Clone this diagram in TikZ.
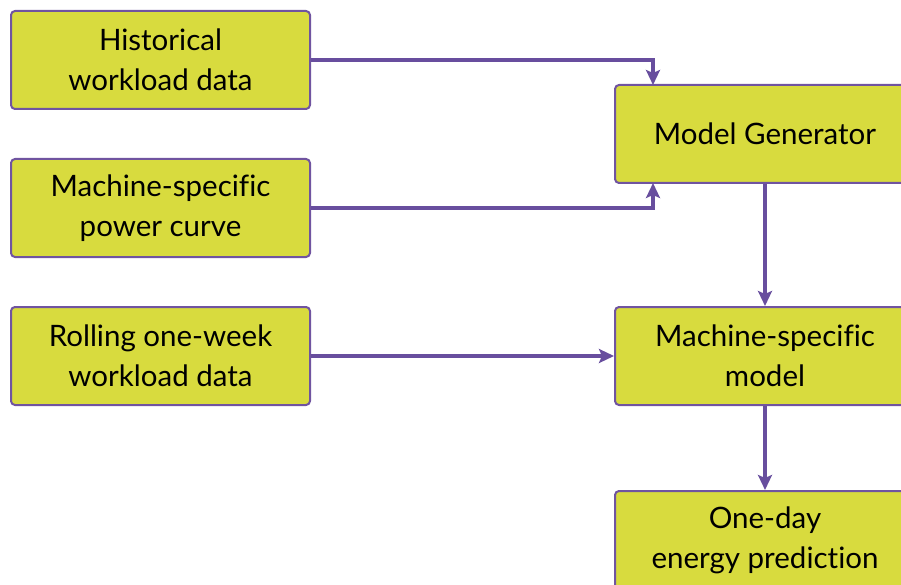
\documentclass[tikz,border=0pt]{standalone}
\usepackage{fontspec}
\setmainfont[Ligatures=NoCommon]{Lato}
\usetikzlibrary{arrows.meta}
\definecolor{boxfill}{RGB}{216,219,62}
\definecolor{boxline}{RGB}{112,84,160}
\definecolor{arr}{RGB}{104,78,158}
\begin{document}
\begin{tikzpicture}[x=1pt,y=-1pt,
  box/.style={draw=boxline, line width=2pt, fill=boxfill, rounded corners=4pt,
    minimum width=299pt, minimum height=98pt, inner sep=0pt, align=center,
    font=\fontsize{29.5}{40}\selectfont, text=black},
  conn/.style={draw=arr, line width=3.5pt, -{Stealth[length=15pt,width=14pt,inset=3pt]}}]
\useasboundingbox (0,0) rectangle (901,585);
\clip (0,0) rectangle (901,585);
\node[box] (hist) at (160.5,60) {Historical\\workload data};
\node[box] (curve) at (160.5,208) {Machine-specific\\power curve};
\node[box] (roll) at (160.5,356) {Rolling one-week\\workload data};
\node[box, minimum width=300pt] (gen) at (765,134) {Model Generator};
\node[box, minimum width=300pt] (model) at (765,356) {Machine-specific\\model};
\node[box, minimum width=300pt] (pred) at (765,540) {One-day\\energy prediction};
\coordinate (gtop) at (653,85);
\coordinate (gbot) at (653,183);
\draw[conn] (hist.east) -| (gtop);
\draw[conn] (curve.east) -| (gbot);
\draw[conn] (roll.east) -- (model.west);
\draw[conn] (gen.south) -- (model.north);
\draw[conn] (model.south) -- (pred.north);
\end{tikzpicture}
\end{document}
